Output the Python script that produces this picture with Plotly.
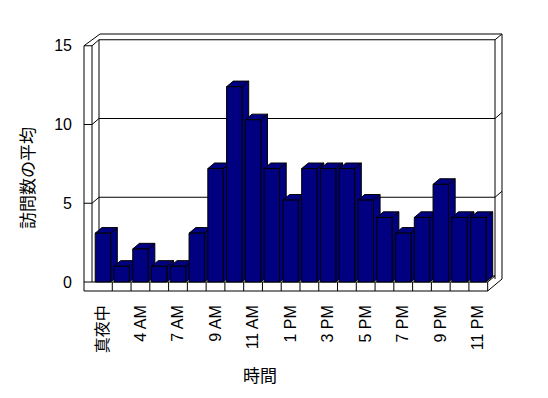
import plotly.graph_objects as go

# ---- data ----
categories = ["真夜中", "1 AM", "4 AM", "6 AM", "7 AM", "8 AM", "9 AM", "10 AM", "11 AM",
              "正午", "1 PM", "2 PM", "3 PM", "4 PM", "5 PM", "6 PM", "7 PM", "8 PM",
              "9 PM", "10 PM", "11 PM"]
values = [3.1, 1.0, 2.1, 1.0, 1.0, 3.1, 7.2, 12.4, 10.3, 7.2, 5.2,
          7.2, 7.2, 7.2, 5.2, 4.1, 3.1, 4.1, 6.2, 4.1, 4.1]
y_ticks = [0, 5, 10, 15]
x_title = "時間"
y_title = "訪問数の平均"

# ---- geometry (pixels in the 548x398 window; the page body adds an 8px margin) ----
OFF = 8
W, H = 548 - OFF, 398 - OFF
L, R, T, B = 84 - OFF, 502 - OFF, 34 - OFF, 291 - OFF   # plot area in figure px
PW, PH = R - L, B - T
PITCH = 18.77                          # px per category
C0 = 102.9 - OFF                       # px centre of first category
Y0 = 282.0 - OFF                       # px of value 0 (front plane)
PPU = 15.75                            # px per value unit
DX, DY = 7, -6                         # depth offset of the back wall (px)

x_range = [-(C0 - L) / PITCH, -(C0 - L) / PITCH + PW / PITCH]
y_range = [-(B - Y0) / PPU, (Y0 - T) / PPU]

def px(x):
    return (x - L) / PW

def py(y):
    return (B - y) / PH

def vy(v):
    return Y0 - v * PPU

NAVY = "#000080"
shapes = []

def line(x0, y0, x1, y1):
    shapes.append(dict(type="line", xref="paper", yref="paper",
                       x0=px(x0), y0=py(y0), x1=px(x1), y1=py(y1),
                       line=dict(color="black", width=1), layer="below"))

# back wall
bl, br, bt, bb = L + 8 + DX, R - 7, vy(15) + DY, vy(0) + DY
line(bl, bt, br, bt)
line(bl, bt, bl, bb)
line(br, bt, br, bb + 3)
line(bl, bb, br, bb)
# back wall thickness (outer edges)
line(bl + 1, T, R, T)
line(R, T, R, B - 12)
line(br, bt, R, T)
line(L, vy(15), bl + 1, T)
line(L + 8, vy(15), bl, bt)
# left wall
line(L, vy(15), L, B)
line(L + 8, vy(15), L + 8, Y0)
line(L, vy(15), L + 8, vy(15))
# gridlines (back wall + left wall + right edge)
for t in y_ticks[1:-1]:
    line(bl, vy(t) + DY, br, vy(t) + DY)
    line(L, vy(t), L + 8, vy(t))
    line(L + 8, vy(t), bl, vy(t) + DY)
    line(br, vy(t) + DY, R, vy(t) + DY - 6)
# floor front face with category dividers
fr = C0 + (len(categories) - 0.5) * PITCH
line(L, Y0, fr, Y0)
line(L, B, fr, B)
line(fr, Y0, fr, B)
for k in range(len(categories) - 1):
    xd = C0 + (k + 0.5) * PITCH
    line(xd, Y0, xd, B)
line(fr, B, R, B - 12)
line(fr, Y0, br, bb)

# bar top and side faces (data coordinates)
w = 0.41
dx = 6.7 / PITCH
dy = 5.6 / PPU
for i, h in enumerate(values):
    top = f"M {i-w},{h} L {i+w},{h} L {i+w+dx},{h+dy} L {i-w+dx},{h+dy} Z"
    side = f"M {i+w},0 L {i+w},{h} L {i+w+dx},{h+dy} L {i+w+dx},{dy} Z"
    for p in (side, top):
        shapes.append(dict(type="path", xref="x", yref="y", path=p,
                           fillcolor=NAVY, line=dict(color="black", width=1),
                           layer="below"))

FONT = "Liberation Sans, Noto Sans CJK JP, sans-serif"

fig = go.Figure(go.Bar(
    x=list(range(len(categories))), y=values, width=2 * w,
    marker=dict(color=NAVY, line=dict(color="black", width=1)),
))

fig.update_layout(
    width=W, height=H,
    margin=dict(l=L, r=W - R, t=T, b=H - B, pad=0),
    paper_bgcolor="white", plot_bgcolor="rgba(0,0,0,0)",
    showlegend=False,
    font=dict(family=FONT, size=15, color="black"),
    shapes=shapes,
    xaxis=dict(range=x_range, showgrid=False, zeroline=False, showline=False,
               tickmode="array", tickvals=list(range(0, len(categories), 2)),
               ticktext=categories[::2], tickangle=-90, ticks="",
               ticklabelstandoff=10, tickfont=dict(size=16, family=FONT, color="black")),
    yaxis=dict(range=y_range, showgrid=False, zeroline=False, showline=False,
               tickmode="array", tickvals=y_ticks, ticks="",
               ticklabelstandoff=11, tickfont=dict(size=16, family=FONT, color="black")),
    annotations=[
        dict(text=y_title, textangle=-90, xref="paper", yref="paper",
             x=px(28 - OFF), y=py(178 - OFF), xanchor="center", yanchor="middle",
             showarrow=False, font=dict(size=17, family=FONT, color="black")),
        dict(text=x_title, xref="paper", yref="paper",
             x=px(260 - OFF), y=py(376 - OFF), xanchor="center", yanchor="middle",
             showarrow=False, font=dict(size=17, family=FONT, color="black")),
    ],
)

fig.write_html("out.html")
